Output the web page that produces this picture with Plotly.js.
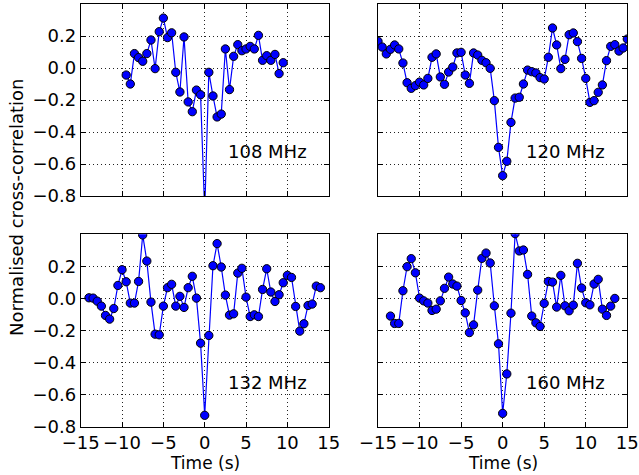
<!DOCTYPE html>
<html>
<head>
<meta charset="utf-8">
<script src="https://cdn.plot.ly/plotly-3.0.1.min.js"></script>
<style>html,body{margin:0;padding:0;background:#fff;}#chart{width:639px;height:475px;}</style>
</head>
<body>
<div id="chart"></div>
<script>
// ---- data ----
const labels = ["108 MHz", "120 MHz", "132 MHz", "160 MHz"];
const xTitle = "Time (s)";
const yTitle = "Normalised cross-correlation";

const t108 = [-9.5,-9,-8.5,-8,-7.5,-7,-6.5,-6,-5.5,-5,-4.5,-4,-3.5,-3,-2.5,-2,-1.5,-1,-0.5,0,0.5,1,1.5,2,2.5,3,3.5,4,4.5,5,5.5,6,6.5,7,7.5,8,8.5,9,9.5];
const v108 = [-0.044,-0.10,0.09,0.065,0.042,0.09,0.175,-0.004,0.227,0.312,0.19,0.22,-0.027,-0.15,0.194,-0.212,-0.273,-0.138,-0.167,-0.90,-0.027,-0.175,-0.306,-0.288,0.119,-0.135,0.073,0.146,0.108,0.119,0.135,0.119,0.204,0.048,0.077,0.048,0.085,-0.035,0.033];

const t120 = [-15,-14.5,-14,-13.5,-13,-12.5,-12,-11.5,-11,-10.5,-10,-9.5,-9,-8.5,-8,-7.5,-7,-6.5,-6,-5.5,-5,-4.5,-4,-3.5,-3,-2.5,-2,-1.5,-1,-0.5,0,0.5,1,1.5,2,2.5,3,3.5,4,4.5,5,5.5,6,6.5,7,7.5,8,8.5,9,9.5,10,10.5,11,11.5,12,12.5,13,13.5,14,14.5,15];
const v120 = [0.167,0.131,0.088,0.117,0.144,0.119,0.031,-0.092,-0.127,-0.11,-0.088,-0.106,-0.065,0.067,0.088,-0.056,-0.102,-0.025,0.006,0.094,0.098,-0.044,-0.096,0.094,0.081,0.048,0.033,-0.002,-0.204,-0.496,-0.673,-0.583,-0.34,-0.188,-0.183,-0.10,-0.013,-0.023,-0.031,-0.06,-0.069,0.067,0.25,0.144,-0.004,0.054,0.208,0.219,0.165,0.06,-0.065,-0.215,-0.204,-0.152,-0.106,0.046,0.135,0.146,0.106,0.125,0.181];

const t132 = [-14,-13.5,-13,-12.5,-12,-11.5,-11,-10.5,-10,-9.5,-9,-8.5,-8,-7.5,-7,-6.5,-6,-5.5,-5,-4.5,-4,-3.5,-3,-2.5,-2,-1.5,-1,-0.5,0,0.5,1,1.5,2,2.5,3,3.5,4,4.5,5,5.5,6,6.5,7,7.5,8,8.5,9,9.5,10,10.5,11,11.5,12,12.5,13,13.5,14];
const v132 = [0.004,0.002,-0.017,-0.048,-0.106,-0.129,-0.063,0.081,0.179,0.104,-0.029,-0.029,0.106,0.396,0.233,-0.023,-0.223,-0.227,-0.048,0.067,0.088,-0.048,0.013,-0.056,0.067,0.138,0.002,-0.279,-0.729,-0.231,0.204,0.342,0.196,0.021,-0.104,-0.096,0.158,0.188,0.008,-0.113,-0.102,-0.113,0.056,0.185,0.04,-0.019,0.023,0.098,0.144,0.131,-0.05,-0.204,-0.158,-0.044,-0.035,0.077,0.067];

const t160 = [-13.5,-13,-12.5,-12,-11.5,-11,-10.5,-10,-9.5,-9,-8.5,-8,-7.5,-7,-6.5,-6,-5.5,-5,-4.5,-4,-3.5,-3,-2.5,-2,-1.5,-1,-0.5,0,0.5,1,1.5,2,2.5,3,3.5,4,4.5,5,5.5,6,6.5,7,7.5,8,8.5,9,9.5,10,10.5,11,11.5,12,12.5,13,13.5];
const v160 = [-0.11,-0.156,-0.156,0.048,0.198,0.248,0.16,0.002,-0.015,-0.029,-0.075,-0.067,-0.015,0.063,0.133,0.09,0.077,-0.013,-0.09,-0.213,-0.165,0.052,0.25,0.283,0.221,-0.046,-0.283,-0.717,-0.471,-0.092,0.404,0.296,0.302,0.15,-0.11,-0.152,-0.175,-0.031,0.106,0.102,-0.054,0.144,-0.046,-0.077,-0.042,0.219,0.065,-0.027,-0.04,0.09,0.119,-0.067,-0.106,-0.048,0.0];

const xTicks = [-15,-10,-5,0,5,10,15];
const yTicks = [-0.8,-0.6,-0.4,-0.2,0.0,0.2];

// ---- build ----
const series = [[t108,v108],[t120,v120],[t132,v132],[t160,v160]];
const axIds = [["x","y"],["x2","y2"],["x3","y3"],["x4","y4"]];
const traces = series.map((s,i)=>({
  x: s[0], y: s[1], xaxis: axIds[i][0], yaxis: axIds[i][1],
  type: "scatter", mode: "lines+markers", cliponaxis: true,
  line: {color: "#0000ff", width: 1.2},
  marker: {color: "#0000ff", size: 8.3, line: {color: "#000", width: 1}},
  showlegend: false, hoverinfo: "skip"
}));

const F = "DejaVu Sans, sans-serif";
const xDom = [[80.7/639, 328.7/639],[378/639, 627.3/639]];
const yDom = [[(475-196)/475, (475-4)/475],[(475-426.7)/475, (475-234.3)/475]];

function xa(col, row, anchor){
  return {
    domain: xDom[col], anchor: anchor, range: [-15,15],
    tickmode: "array", tickvals: xTicks,
    ticks: "inside", ticklen: 5, tickcolor: "#000", tickwidth: 1,
    showline: true, linecolor: "#000", linewidth: 1, mirror: "allticks",
    showgrid: true, gridcolor: "#222", griddash: "1px,3px", gridwidth: 1,
    zeroline: false, showticklabels: row === 1,
    tickfont: {family: F, size: 18, color: "#000"}
  };
}
function ya(col, row, anchor){
  return {
    domain: yDom[row], anchor: anchor, range: [-0.8, 0.4],
    tickmode: "array", tickvals: yTicks, tickformat: ".1f",
    ticks: "inside", ticklen: 5, tickcolor: "#000", tickwidth: 1,
    showline: true, linecolor: "#000", linewidth: 1, mirror: "allticks",
    showgrid: true, gridcolor: "#222", griddash: "1px,3px", gridwidth: 1,
    zeroline: false, showticklabels: col === 0,
    tickfont: {family: F, size: 18, color: "#000"}
  };
}

const annotations = labels.map((lab,i)=>({
  text: lab, xref: axIds[i][0] + " domain", yref: axIds[i][1] + " domain",
  x: 0.92, y: 0.232, xanchor: "right", yanchor: "middle", showarrow: false,
  font: {family: F, size: 18, color: "#000"}
}));
[["x3"],["x4"]].forEach(a => annotations.push({
  text: xTitle, xref: a[0] + " domain", yref: "paper",
  x: 0.5, y: (475-462.5)/475, xanchor: "center", yanchor: "middle", showarrow: false,
  font: {family: F, size: 17, color: "#000"}
}));
annotations.push({
  text: yTitle, xref: "paper", yref: "paper",
  x: 17/639, y: (475-208)/475, xanchor: "center", yanchor: "middle",
  textangle: -90, showarrow: false,
  font: {family: F, size: 18, color: "#000"}
});

const layout = {
  width: 639, height: 475,
  margin: {l: 0, r: 0, t: 0, b: 0},
  paper_bgcolor: "#fff", plot_bgcolor: "#fff",
  xaxis: xa(0,0,"y"), yaxis: ya(0,0,"x"),
  xaxis2: xa(1,0,"y2"), yaxis2: ya(1,0,"x2"),
  xaxis3: xa(0,1,"y3"), yaxis3: ya(0,1,"x3"),
  xaxis4: xa(1,1,"y4"), yaxis4: ya(1,1,"x4"),
  annotations: annotations,
  font: {family: F, color: "#000"}
};

Plotly.newPlot("chart", traces, layout, {staticPlot: true, displayModeBar: false});
</script>
</body>
</html>
